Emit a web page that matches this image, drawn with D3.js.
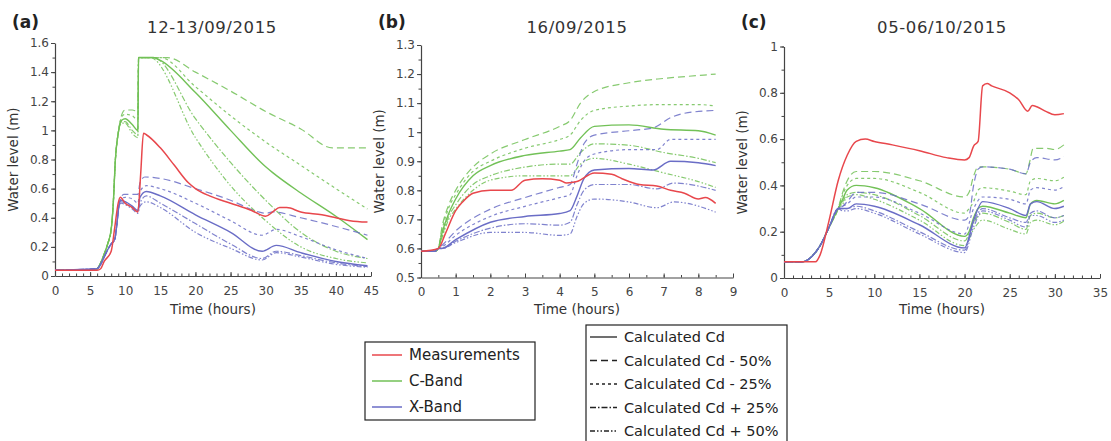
<!DOCTYPE html>
<html>
<head>
<meta charset="utf-8">
<script src="https://cdn.jsdelivr.net/npm/d3@7"></script>
<style>
  body { margin: 0; background: #fff; }
  svg { font-family: "DejaVu Sans", sans-serif; }
  .axis path, .axis line { stroke: #444; }
  .axis text { fill: #444; font-size: 12px; font-family: "DejaVu Sans", sans-serif; }
</style>
</head>
<body>
<svg id="chart" width="1111" height="441"></svg>
<script>
const WIDTH = 1111;
const HEIGHT = 441;

const panelLabels = ["(a)", "(b)", "(c)"];
const panelTitles = ["12-13/09/2015", "16/09/2015", "05-06/10/2015"];
const xDomains = [[0, 45], [0, 9], [0, 35]];
const yDomains = [[0, 1.6], [0.5, 1.3], [0, 1]];
const xMajor = [5, 1, 5];
const xMinor = [1, 0.5, 1];
const yMajor = [0.2, 0.1, 0.2];
const yMinor = [0.1, 0.05, 0.1];

const variantNames = ["Calculated Cd", "Calculated Cd - 50%", "Calculated Cd - 25%", "Calculated Cd + 25%", "Calculated Cd + 50%"];
const bandNames = ["Measurements", "C-Band", "X-Band"];

// ---- panel (a) 12-13/09/2015 ----
const measA = [[0,0.04],[6,0.04],[6.5,0.05],[7,0.1],[8,0.17],[8.5,0.33],[9,0.5],[9.3,0.54],[10,0.5],[11,0.47],[11.8,0.44],[12.2,0.7],[12.6,0.98],[13,0.97],[15,0.88],[17,0.76],[19,0.64],[20,0.6],[22,0.55],[25,0.5],[28,0.45],[30,0.41],[31,0.44],[32,0.47],[33,0.47],[35,0.44],[38,0.42],[40,0.4],[42,0.38],[44.5,0.37]];
const cStartA = [[0,0.04],[5.5,0.04],[6,0.05],[7,0.15],[7.5,0.22],[8,0.32],[8.3,0.5],[8.6,0.8],[9,0.98]];
const cBandA = [
  [[9.5,1.07],[10,1.08],[11,1.04],[11.8,1.0],[11.9,1.5],[14,1.5],[15,1.48],[20,1.26],[25,1.0],[30,0.75],[31,0.71],[35,0.57],[40,0.41],[44.5,0.25]],
  [[9.6,1.12],[10,1.14],[11,1.14],[11.8,1.13],[11.9,1.5],[16,1.5],[20,1.4],[25,1.27],[30,1.13],[35,1.01],[39.5,0.88],[44.5,0.88]],
  [[9.6,1.1],[10,1.11],[11,1.1],[11.8,1.07],[11.9,1.5],[15,1.5],[20,1.3],[25,1.1],[30,0.92],[35,0.76],[40,0.6],[44.5,0.46]],
  [[9.5,1.06],[10,1.06],[11,1.0],[11.8,0.97],[11.9,1.5],[14,1.5],[20,1.08],[25,0.78],[30,0.52],[35,0.3],[40,0.17],[44.5,0.12]],
  [[9.5,1.05],[10,1.05],[11,0.98],[11.8,0.95],[11.9,1.5],[13.5,1.5],[20,0.95],[25,0.62],[30,0.38],[35,0.2],[40,0.12],[44.5,0.09]]
];
const xStartA = [[0,0.04],[6,0.05],[6.5,0.08],[7,0.13],[7.5,0.18],[8,0.22],[8.5,0.25],[8.8,0.35],[9.1,0.48]];
const xBandA = [
  [[9.4,0.52],[10,0.51],[11,0.48],[11.8,0.45],[12.1,0.54],[13,0.58],[15,0.55],[20,0.42],[25,0.3],[29.5,0.17],[31.5,0.21],[35,0.16],[40,0.1],[44.5,0.07]],
  [[9.4,0.54],[9.8,0.56],[11,0.56],[11.8,0.56],[12.1,0.64],[12.8,0.68],[15,0.67],[20,0.6],[25,0.52],[29,0.44],[30,0.43],[31,0.44],[35,0.4],[40,0.34],[44.5,0.28]],
  [[9.4,0.53],[10,0.54],[11,0.53],[11.8,0.5],[12.1,0.58],[13,0.62],[15,0.6],[20,0.5],[25,0.38],[29.5,0.28],[31.5,0.32],[35,0.27],[40,0.18],[44.5,0.12]],
  [[9.4,0.51],[10,0.5],[11,0.47],[11.8,0.44],[12.1,0.5],[13,0.55],[15,0.5],[20,0.36],[25,0.22],[29.5,0.12],[31.5,0.17],[35,0.14],[40,0.09],[44.5,0.065]],
  [[9.4,0.5],[10,0.49],[11,0.46],[11.8,0.43],[12.1,0.48],[13,0.51],[15,0.47],[20,0.3],[25,0.19],[29.5,0.11],[31.5,0.16],[35,0.13],[40,0.08],[44.5,0.06]]
];

// ---- panel (b) 16/09/2015 ----
const measB = [[0,0.59],[0.5,0.6],[0.7,0.65],[1,0.73],[1.2,0.76],[1.5,0.79],[2,0.8],[2.6,0.8],[3,0.835],[3.5,0.84],[4,0.835],[4.2,0.825],[4.5,0.83],[5,0.86],[5.5,0.855],[5.8,0.84],[6.3,0.82],[6.8,0.815],[7.2,0.8],[7.6,0.79],[8,0.77],[8.2,0.775],[8.5,0.755]];
const startB = [[0,0.59],[0.4,0.59],[0.5,0.6]];
const cBandB = [
  [[0.6,0.65],[0.8,0.72],[1,0.77],[1.5,0.85],[2,0.885],[3,0.92],[4,0.935],[4.3,0.94],[4.6,0.98],[5,1.02],[6,1.025],[7,1.01],[8,1.005],[8.5,0.99]],
  [[0.6,0.67],[0.8,0.75],[1,0.8],[1.5,0.88],[2,0.925],[3,0.975],[4,1.02],[4.3,1.04],[4.6,1.1],[5,1.14],[6,1.17],[7,1.185],[8,1.195],[8.5,1.2]],
  [[0.6,0.66],[0.8,0.74],[1,0.785],[1.5,0.865],[2,0.9],[3,0.945],[4,0.975],[4.3,0.99],[4.6,1.04],[5,1.075],[6,1.09],[7,1.095],[8,1.095],[8.5,1.09]],
  [[0.6,0.64],[0.8,0.71],[1,0.75],[1.5,0.82],[2,0.85],[3,0.88],[4,0.89],[4.3,0.89],[4.6,0.93],[5,0.96],[6,0.955],[7,0.93],[8,0.91],[8.5,0.895]],
  [[0.6,0.635],[0.8,0.7],[1,0.735],[1.5,0.8],[2,0.835],[3,0.85],[4,0.85],[4.3,0.85],[4.6,0.89],[5,0.91],[6,0.89],[7,0.86],[8,0.83],[8.5,0.81]]
];
const xBandB = [
  [[0.6,0.6],[1,0.63],[2,0.69],[3,0.71],[4,0.72],[4.3,0.73],[4.5,0.78],[4.7,0.84],[5,0.87],[6,0.875],[6.7,0.87],[7.2,0.9],[8,0.895],[8.5,0.885]],
  [[0.6,0.61],[1,0.66],[2,0.735],[3,0.775],[4,0.81],[4.3,0.82],[4.5,0.89],[4.7,0.96],[5,0.99],[6,1.005],[6.7,1.015],[7.2,1.05],[7.6,1.065],[8.5,1.075]],
  [[0.6,0.605],[1,0.645],[2,0.71],[3,0.745],[4,0.775],[4.3,0.785],[4.5,0.85],[4.7,0.9],[5,0.925],[6,0.94],[6.8,0.94],[7.2,0.975],[8.5,0.975]],
  [[0.6,0.6],[1,0.625],[2,0.67],[3,0.685],[4,0.68],[4.3,0.69],[4.5,0.75],[4.7,0.8],[5,0.82],[6,0.82],[6.8,0.805],[7.3,0.825],[8.5,0.8]],
  [[0.6,0.6],[1,0.62],[2,0.655],[3,0.655],[4,0.645],[4.3,0.65],[4.5,0.71],[4.7,0.755],[5,0.77],[6,0.76],[6.8,0.74],[7.3,0.76],[8.5,0.725]]
];

// ---- panel (c) 05-06/10/2015 ----
const measC = [[0,0.07],[3.5,0.07],[4,0.1],[5,0.25],[6,0.42],[7,0.53],[8,0.59],[9,0.6],[10,0.59],[12,0.575],[15,0.55],[18,0.52],[20,0.51],[20.5,0.52],[21,0.57],[21.5,0.59],[22,0.83],[22.5,0.84],[23,0.83],[25,0.8],[26,0.77],[27,0.72],[27.5,0.745],[28,0.74],[29,0.72],[30,0.705],[31,0.71]];
const startC = [[0,0.07],[2,0.07],[3,0.09],[4,0.14],[5,0.22],[6,0.3]];
const cBandC = [
  [[6.5,0.34],[7,0.38],[8,0.4],[10,0.39],[15,0.3],[20,0.18],[20.5,0.2],[21,0.26],[21.5,0.3],[22,0.31],[25,0.28],[26.8,0.26],[27.3,0.32],[28,0.335],[30,0.32],[31,0.335]],
  [[6.5,0.37],[7,0.42],[8,0.46],[10,0.46],[15,0.42],[20,0.35],[20.5,0.37],[21,0.44],[21.5,0.48],[22,0.48],[25,0.47],[26.8,0.45],[27.2,0.5],[27.6,0.56],[29,0.56],[30,0.555],[31,0.575]],
  [[6.5,0.36],[7,0.4],[8,0.43],[10,0.43],[15,0.37],[20,0.28],[20.5,0.3],[21,0.33],[21.5,0.38],[22,0.39],[25,0.375],[26.8,0.36],[27.3,0.42],[28,0.43],[30,0.42],[31,0.435]],
  [[6.5,0.33],[7,0.36],[8,0.37],[10,0.36],[15,0.27],[20,0.16],[21,0.24],[22,0.28],[25,0.24],[26.8,0.21],[27.3,0.27],[28,0.28],[30,0.26],[31,0.27]],
  [[6.5,0.32],[7,0.35],[8,0.36],[10,0.34],[15,0.25],[20,0.14],[21,0.21],[22,0.25],[25,0.21],[26.8,0.19],[27.3,0.24],[28,0.25],[30,0.23],[31,0.245]]
];
const xBandC = [
  [[6.5,0.3],[7,0.3],[8,0.32],[10,0.31],[15,0.23],[20,0.13],[21,0.25],[22,0.33],[25,0.3],[26.8,0.27],[27.3,0.32],[28,0.33],[30,0.3],[31,0.31]],
  [[6.5,0.31],[7,0.33],[8,0.37],[10,0.37],[15,0.32],[20,0.25],[20.5,0.27],[21,0.4],[21.5,0.47],[22,0.48],[25,0.47],[26.8,0.45],[27.3,0.5],[28,0.52],[30,0.51],[31,0.525]],
  [[6.5,0.31],[7,0.32],[8,0.35],[10,0.35],[15,0.28],[20,0.19],[21,0.3],[22,0.35],[25,0.34],[26.8,0.32],[27.3,0.38],[28,0.39],[30,0.38],[31,0.395]],
  [[6.5,0.3],[7,0.3],[8,0.31],[10,0.29],[15,0.2],[20,0.12],[21,0.24],[22,0.3],[25,0.26],[26.8,0.24],[27.3,0.28],[28,0.29],[30,0.26],[31,0.27]],
  [[6.5,0.29],[7,0.29],[8,0.3],[10,0.28],[15,0.19],[20,0.11],[21,0.22],[22,0.29],[25,0.25],[26.8,0.22],[27.3,0.27],[28,0.27],[30,0.24],[31,0.25]]
];

const COLORS = { meas: "#e8474c", c: "#72c157", x: "#6a6dc6" };
const DASHES = [null, "7,4", "3,3", "6,2,1.5,2", "5,2,1.5,2,1.5,2"];

/* plot frames, in pixels */
const frames = [
  { x0: 55, x1: 371, y0: 43, y1: 276 },
  { x0: 421, x1: 733, y0: 45, y1: 277.5 },
  { x0: 784, x1: 1100, y0: 46.5, y1: 278 },
];

const panelData = [
  { meas: measA, cStart: cStartA, c: cBandA, xStart: xStartA, x: xBandA },
  { meas: measB, cStart: startB, c: cBandB, xStart: startB, x: xBandB },
  { meas: measC, cStart: startC, c: cBandC, xStart: startC, x: xBandC },
];

function range(a, b, step) {
  const out = [];
  const n = Math.round((b - a) / step);
  for (let i = 0; i <= n; i++) out.push(+(a + i * step).toFixed(4));
  return out;
}

const svg = d3.select("#chart");

panelData.forEach((pd, i) => {
  const f = frames[i];
  const xScale = d3.scaleLinear().domain(xDomains[i]).range([f.x0, f.x1]);
  const yScale = d3.scaleLinear().domain(yDomains[i]).range([f.y1, f.y0]);
  const g = svg.append("g");

  // minor ticks
  g.append("g").attr("class", "axis")
    .attr("transform", `translate(0,${f.y1})`)
    .call(d3.axisBottom(xScale).tickValues(range(xDomains[i][0], xDomains[i][1], xMinor[i])).tickSize(-2.5).tickFormat(""))
    .call((s) => s.select(".domain").remove());
  g.append("g").attr("class", "axis")
    .attr("transform", `translate(${f.x0},0)`)
    .call(d3.axisLeft(yScale).tickValues(range(yDomains[i][0], yDomains[i][1], yMinor[i])).tickSize(2.5).tickFormat(""))
    .call((s) => s.select(".domain").remove());

  // major axes
  g.append("g").attr("class", "axis")
    .attr("transform", `translate(0,${f.y1})`)
    .call(d3.axisBottom(xScale).tickValues(range(xDomains[i][0], xDomains[i][1], xMajor[i])).tickSize(-4).tickSizeOuter(0).tickPadding(10).tickFormat(d3.format("d")));
  g.append("g").attr("class", "axis")
    .attr("transform", `translate(${f.x0},0)`)
    .call(d3.axisLeft(yScale).tickValues(range(yDomains[i][0], yDomains[i][1], yMajor[i])).tickSize(4).tickSizeOuter(0).tickPadding(2).tickFormat((d) => d3.format("~g")(d)));
  g.selectAll(".axis .domain").attr("stroke-width", 1.2);

  // lines
  const line = d3.line()
    .x((d) => xScale(d[0]))
    .y((d) => yScale(d[1]))
    .curve(d3.curveMonotoneX);

  const drawBand = (start, series, color) => {
    series.forEach((s, k) => {
      g.append("path")
        .attr("d", line(start.concat(s)))
        .attr("fill", "none")
        .attr("stroke", color)
        .attr("stroke-width", k === 0 ? 1.4 : 1.2)
        .attr("stroke-opacity", k === 0 ? 1 : 0.85)
        .attr("stroke-dasharray", DASHES[k]);
    });
  };
  drawBand(pd.cStart, pd.c, COLORS.c);
  drawBand(pd.xStart, pd.x, COLORS.x);
  g.append("path")
    .attr("d", line(pd.meas))
    .attr("fill", "none")
    .attr("stroke", COLORS.meas)
    .attr("stroke-width", 1.5);

  // labels
  g.append("text")
    .attr("x", f.x0 - 43)
    .attr("y", 28)
    .attr("font-size", 17)
    .attr("font-weight", "bold")
    .attr("fill", "#222")
    .text(panelLabels[i]);
  g.append("text")
    .attr("x", [212, 577, 942][i])
    .attr("y", 33)
    .attr("text-anchor", "middle")
    .attr("font-size", 16.5)
    .attr("letter-spacing", 0.6)
    .attr("fill", "#333")
    .text(panelTitles[i]);
  g.append("text")
    .attr("x", (f.x0 + f.x1) / 2)
    .attr("y", 314)
    .attr("text-anchor", "middle")
    .attr("font-size", 13.5)
    .attr("fill", "#333")
    .text("Time (hours)");
  g.append("text")
    .attr("transform", `translate(${f.x0 - 37},${(f.y0 + f.y1) / 2}) rotate(-90)`)
    .attr("text-anchor", "middle")
    .attr("font-size", 13.5)
    .attr("fill", "#333")
    .text("Water level (m)");
});

/* colour legend */
const leg1 = svg.append("g").attr("transform", "translate(365,342)");
leg1.append("rect").attr("width", 170).attr("height", 78)
  .attr("fill", "#fff").attr("stroke", "#222").attr("stroke-width", 1.2);
[COLORS.meas, COLORS.c, COLORS.x].forEach((c, k) => {
  const y = 13 + k * 26;
  leg1.append("line").attr("x1", 7).attr("x2", 37).attr("y1", y).attr("y2", y)
    .attr("stroke", c).attr("stroke-width", 1.5);
  leg1.append("text").attr("x", 44).attr("y", y + 5)
    .attr("font-size", 15).attr("fill", "#222").text(bandNames[k]);
});

/* line style legend */
const leg2 = svg.append("g").attr("transform", "translate(586,325)");
leg2.append("rect").attr("width", 201).attr("height", 130)
  .attr("fill", "#fff").attr("stroke", "#222").attr("stroke-width", 1.2);
variantNames.forEach((name, k) => {
  const y = 12 + k * 23.5;
  leg2.append("line").attr("x1", 4).attr("x2", 31).attr("y1", y).attr("y2", y)
    .attr("stroke", "#222").attr("stroke-width", 1.3)
    .attr("stroke-dasharray", DASHES[k]);
  leg2.append("text").attr("x", 38).attr("y", y + 5)
    .attr("font-size", 14.5).attr("fill", "#222").text(name);
});
</script>
</body>
</html>
